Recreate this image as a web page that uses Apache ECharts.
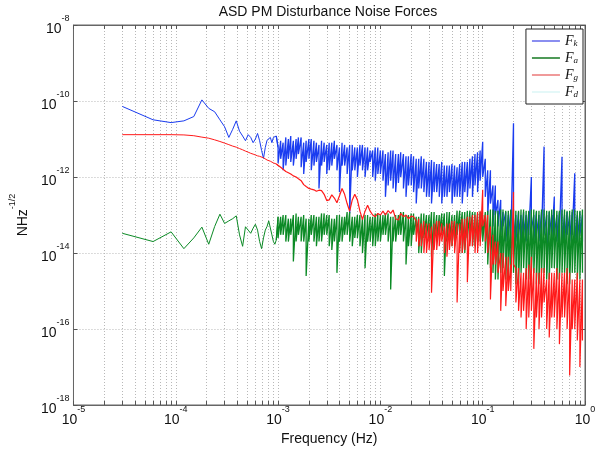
<!DOCTYPE html>
<html><head><meta charset="utf-8">
<script src="https://cdn.jsdelivr.net/npm/echarts@6/dist/echarts.min.js"></script>
<style>html,body{margin:0;padding:0;background:#fff}#c{width:602px;height:453px}</style>
</head><body><div id="c"></div>
<script>
// Low-frequency bins (Hz)
const fLow = [3e-5,6e-5,9e-5,1.2e-4,1.5e-4,1.8e-4,2.1e-4,2.4e-4,2.7e-4,3.0e-4,3.3e-4,3.6e-4,3.9e-4,4.2e-4,4.5e-4,4.8e-4,5.1e-4,5.4e-4,5.7e-4,6.0e-4,6.3e-4,6.6e-4,6.9e-4,7.2e-4,7.5e-4,7.8e-4,8.1e-4,8.4e-4,8.7e-4,9.0e-4,9.3e-4,9.6e-4];
const fkLow = [7.2e-11,3.2e-11,2.7e-11,3.0e-11,3.9e-11,1.07e-10,6.4e-11,5.2e-11,3.2e-11,2.1e-11,1.1e-11,1.8e-11,3e-11,1.6e-11,1.2e-11,9e-12,1.3e-11,1.1e-11,8e-12,1.0e-11,1.4e-11,9e-12,5e-12,3.1e-12,6e-12,9.3e-12,1.0e-11,1.1e-11,8e-12,1.1e-11,1.2e-11,1.2e-11];
const faLow = [3.3e-14,2.0e-14,3.6e-14,1.3e-14,2.5e-14,4.8e-14,1.7e-14,5e-14,1.05e-13,6e-14,7e-14,8e-14,9.5e-14,3e-14,1.5e-14,4.9e-14,4e-14,3.3e-14,4.5e-14,5.7e-14,4e-14,2e-14,1.3e-14,2.5e-14,4e-14,5e-14,7e-14,7.4e-14,3e-14,2e-14,1.7e-14,2.2e-14];
const fgLow = [1.3e-11,1.3e-11,1.3e-11,1.28e-11,1.22e-11,1.12e-11,1.05e-11,9.5e-12,8.6e-12,7.8e-12,7.1e-12,6.5e-12,6.1e-12,5.6e-12,5.2e-12,4.8e-12,4.5e-12,4.2e-12,4.0e-12,3.8e-12,3.6e-12,3.5e-12,3.4e-12,3.2e-12,3.0e-12,2.8e-12,2.7e-12,2.6e-12,2.45e-12,2.35e-12,2.25e-12,2.2e-12];

// Dense region bins (Hz); each bin has a max (Hi) and a min (Lo) value
const fDense = [
1.00e-3,1.06e-3,1.12e-3,1.19e-3,1.26e-3,1.33e-3,1.41e-3,1.50e-3,1.58e-3,1.68e-3,1.78e-3,1.88e-3,2.00e-3,2.11e-3,2.24e-3,2.37e-3,2.51e-3,2.66e-3,2.82e-3,2.99e-3,3.16e-3,3.35e-3,3.55e-3,3.76e-3,3.98e-3,4.22e-3,4.47e-3,4.73e-3,5.01e-3,5.31e-3,5.62e-3,5.96e-3,6.31e-3,6.68e-3,7.08e-3,7.50e-3,7.94e-3,8.41e-3,8.91e-3,9.44e-3,
1.00e-2,1.06e-2,1.12e-2,1.19e-2,1.26e-2,1.33e-2,1.41e-2,1.50e-2,1.58e-2,1.68e-2,1.78e-2,1.88e-2,2.00e-2,2.11e-2,2.24e-2,2.37e-2,2.51e-2,2.66e-2,2.82e-2,2.99e-2,3.16e-2,3.35e-2,3.55e-2,3.76e-2,3.98e-2,4.22e-2,4.47e-2,4.73e-2,5.01e-2,5.31e-2,5.62e-2,5.96e-2,6.31e-2,6.68e-2,7.08e-2,7.50e-2,7.94e-2,8.41e-2,8.91e-2,9.44e-2,
1.00e-1,1.06e-1,1.12e-1,1.19e-1,1.26e-1,1.33e-1,1.41e-1,1.50e-1,1.58e-1,1.68e-1,1.78e-1,1.88e-1,2.00e-1,2.11e-1,2.24e-1,2.37e-1,2.51e-1,2.66e-1,2.82e-1,2.99e-1,3.16e-1,3.35e-1,3.55e-1,3.76e-1,3.98e-1,4.22e-1,4.47e-1,4.73e-1,5.01e-1,5.31e-1,5.62e-1,5.96e-1,6.31e-1,6.68e-1,7.08e-1,7.50e-1,7.94e-1,8.41e-1,8.91e-1,9.44e-1];

const fkHi = [
6e-12,9e-12,8e-12,1.1e-11,1e-11,1.2e-11,9e-12,1e-11,1.1e-11,1.1e-11,8e-12,9e-12,1e-11,1e-11,9e-12,8e-12,7e-12,9e-12,8e-12,7e-12,8e-12,8e-12,9e-12,7e-12,6e-12,8e-12,7e-12,6e-12,7e-12,7e-12,6e-12,6e-12,7e-12,7e-12,6e-12,6e-12,5e-12,5e-12,6e-12,6e-12,
5e-12,5e-12,4e-12,4.5e-12,5e-12,5e-12,4e-12,4e-12,4.5e-12,4e-12,3.5e-12,3.5e-12,4e-12,3.5e-12,3e-12,3e-12,3.5e-12,3e-12,2.5e-12,2.5e-12,2.8e-12,2.5e-12,2.2e-12,2.2e-12,2.5e-12,2e-12,2e-12,2e-12,2.2e-12,2e-12,1.8e-12,2.2e-12,2.5e-12,2.5e-12,2.5e-12,3e-12,3.5e-12,4e-12,4.5e-12,5e-12,
8.5e-12,3e-12,1.5e-12,1.5e-12,6e-13,6e-13,2.5e-13,2.5e-13,1.2e-13,1.2e-13,1e-13,1.2e-13,2.6e-11,1e-13,1.2e-13,1e-13,1.2e-13,1e-13,1.2e-13,1e-12,1e-13,1.2e-13,1e-13,1.2e-13,6.3e-12,1e-13,1.2e-13,1e-13,3e-13,1e-13,1.2e-13,3.4e-12,1e-13,1.2e-13,1e-13,1.2e-13,1.25e-12,1e-13,1.2e-13,1e-13];
const fkLo = [
2.3e-12,3e-12,1.5e-12,2e-12,3e-12,2.5e-12,2e-12,3e-12,4e-12,1.8e-12,1.2e-12,2.5e-12,3e-12,1.5e-12,2e-12,2.5e-12,5e-13,2e-12,2.5e-12,1.2e-12,1.5e-12,2e-12,3e-12,1.5e-12,4e-13,2e-12,2e-12,1.2e-12,1.1e-13,1.5e-12,1.5e-12,1e-12,2e-12,1.5e-12,1e-12,1.5e-12,2.5e-12,1e-12,8e-13,1.2e-12,
1.2e-12,8e-13,3e-13,6e-13,8e-13,5e-13,4e-13,7e-13,1e-12,5e-13,3e-13,6e-13,6e-13,4e-13,2e-13,5e-13,5e-13,4e-13,3e-13,3e-13,2e-13,4e-13,4e-13,3e-13,2e-13,3e-13,3e-13,4e-13,2e-13,3e-13,3e-13,3e-13,2e-13,4e-13,3e-13,5e-13,3e-13,6e-13,4e-13,8e-13,
1e-12,3e-13,1e-13,2e-13,5e-14,1e-13,5e-14,3e-14,5e-14,2e-14,3e-14,2e-14,2e-14,2e-14,3e-14,2e-14,3e-14,2e-14,3e-14,4e-14,2e-14,3e-14,2e-14,3e-14,3e-14,3e-15,3e-14,2e-14,3e-14,2e-14,3e-14,2e-14,2e-14,3e-14,2e-14,3e-14,2e-14,2e-14,3e-14,2e-14];

const faHi = [
9e-14,9e-14,1e-13,1e-13,8e-14,8e-14,1e-13,1.1e-13,9e-14,9e-14,1e-13,8e-14,8e-14,1e-13,1e-13,9e-14,9e-14,1.1e-13,1.1e-13,1e-13,1e-13,8e-14,8e-14,1e-13,1e-13,9e-14,9e-14,1.2e-13,1.2e-13,9e-14,9e-14,1e-13,1e-13,8e-14,1e-13,1e-13,9e-14,9e-14,1.1e-13,1.1e-13,
1e-13,1e-13,1.1e-13,1.1e-13,9e-14,9e-14,1e-13,1e-13,1.2e-13,1.2e-13,1e-13,1e-13,1.1e-13,1.1e-13,9e-14,9e-14,1.1e-13,1.1e-13,1e-13,1e-13,1.2e-13,1.2e-13,1e-13,1e-13,1.1e-13,1.1e-13,1.2e-13,1.2e-13,1e-13,1e-13,1.3e-13,1.3e-13,1.2e-13,1.2e-13,1.3e-13,1.3e-13,1.2e-13,1.2e-13,1.1e-13,1.2e-13,
1e-13,1.2e-13,1.3e-13,1.4e-13,1.4e-13,1.3e-13,1.3e-13,1.4e-13,1.4e-13,1.3e-13,1.3e-13,1.4e-13,1.4e-13,1.3e-13,1.3e-13,1.4e-13,1.4e-13,1.3e-13,1.3e-13,1.4e-13,1.4e-13,1.3e-13,1.3e-13,1.4e-13,1.4e-13,1.3e-13,1.3e-13,1.4e-13,1.4e-13,1.3e-13,1.3e-13,1.4e-13,1.4e-13,1.3e-13,1.3e-13,1.4e-13,1.4e-13,1.3e-13,1.3e-13,1.4e-13];
const faLo = [
2.5e-14,3e-14,3e-14,2e-14,2e-14,3e-14,6e-15,2e-14,3e-14,2e-14,2e-14,2.5e-15,2e-14,3e-14,2e-14,1.5e-14,2e-14,2e-14,3e-14,3e-14,1.5e-14,1.2e-14,2e-14,3e-15,2e-14,2e-14,3e-14,3e-14,2e-14,1.5e-14,2.5e-14,2.5e-14,1.5e-14,1e-14,4e-15,2e-14,2e-14,1.5e-14,1.5e-14,2e-14,
2e-14,3e-14,3e-14,2e-14,1.1e-15,2e-14,2e-14,3e-14,3e-14,2e-14,5e-15,1.5e-14,1.5e-14,3e-14,3e-14,1e-14,1e-14,2.5e-14,2.5e-14,2e-14,8e-15,2e-14,2e-14,3e-14,3e-14,2.5e-15,2e-14,2e-14,1.5e-14,1.5e-14,3e-14,3e-14,1e-14,1e-14,2.5e-14,2.5e-14,1.5e-14,1.5e-14,2e-14,2e-14,
2e-14,1e-14,5e-15,4e-15,3e-15,2e-15,2e-15,3e-15,4e-15,2e-15,2e-15,3e-15,3e-15,1.5e-15,1.5e-15,3e-15,4e-15,2e-15,2e-15,3e-15,3e-15,1.5e-15,1.5e-15,3e-15,3e-15,2e-15,2e-15,4e-15,4e-15,2e-15,2e-15,3e-15,3e-15,1.5e-15,1.5e-15,3e-15,3e-15,2e-15,2e-15,3e-15];

const fgHi = [
2.0e-12,1.8e-12,1.6e-12,1.4e-12,1.3e-12,1.2e-12,1.07e-12,1e-12,9e-13,8e-13,6.3e-13,5.6e-13,5e-13,4.8e-13,4.6e-13,4.2e-13,4.5e-13,4.4e-13,3.5e-13,2.4e-13,2.5e-13,3.4e-13,2.8e-13,2.1e-13,3.2e-13,5e-13,3.5e-13,2e-13,1.26e-13,2.5e-13,3.5e-13,2.5e-13,1.26e-13,7.6e-14,1.26e-13,1.8e-13,1.26e-13,1e-13,9e-14,1.1e-13,
1e-13,1.26e-13,1e-13,1.3e-13,1.1e-13,1.35e-13,8e-14,7.4e-14,1.1e-13,9e-14,1e-13,8e-14,9.3e-14,9e-14,7e-14,8e-14,6e-14,7e-14,6e-14,6e-14,5e-14,6e-14,7e-14,7e-14,6e-14,5e-14,6e-14,6e-14,7e-14,7e-14,6e-14,6e-14,8e-14,8e-14,9e-14,9e-14,1e-13,1e-13,1.2e-13,1.3e-13,
4.6e-13,1e-13,1e-13,5e-14,3e-14,2e-14,2e-14,1e-14,1e-14,8e-15,8e-15,5e-15,4e-13,4e-15,4e-15,3e-15,3e-15,4e-15,5e-15,8e-15,4e-15,3e-15,3e-15,4e-15,4e-15,2e-15,3e-15,3e-15,3e-15,4e-15,3e-15,3e-15,3e-15,4e-15,3e-15,2e-15,2e-15,3e-15,2e-15,2e-15];
const fgLo = [
null,null,null,null,null,null,null,null,null,null,null,null,null,null,null,null,null,null,null,null,null,null,null,null,null,null,null,null,null,null,null,null,null,null,null,null,null,null,null,null,
null,null,null,null,null,null,null,null,null,null,null,null,null,null,2e-14,1.5e-14,1.5e-14,1e-14,1e-14,1.2e-14,9e-16,1.2e-14,1.2e-14,1.5e-14,2e-14,1e-14,8e-15,1.2e-14,1.5e-14,1e-14,5e-16,1e-14,1e-14,1.2e-14,1.7e-15,1.5e-14,1.5e-14,1e-14,1e-14,1.5e-14,
5e-14,2e-14,1e-14,6e-16,5e-15,5e-15,3e-15,3e-16,1e-15,4e-16,1e-15,1e-15,5e-15,5e-16,3e-16,2e-16,3e-16,1e-16,2e-16,3e-16,3e-17,2e-16,1e-16,2e-16,5e-16,1e-16,6e-17,2e-16,2e-16,1e-16,4e-17,2e-16,2e-16,1e-16,6e-18,1e-16,1e-16,5e-17,1e-17,5e-17];

const seriesNames = ['Fk','Fa','Fg','Fd'];
const seriesSubs = ['k','a','g','d'];
const xTicks = [1e-5,2e-5,3e-5,4e-5,5e-5,6e-5,7e-5,8e-5,9e-5,1e-4,2e-4,3e-4,4e-4,5e-4,6e-4,7e-4,8e-4,9e-4,1e-3,2e-3,3e-3,4e-3,5e-3,6e-3,7e-3,8e-3,9e-3,1e-2,2e-2,3e-2,4e-2,5e-2,6e-2,7e-2,8e-2,9e-2,1e-1,2e-1,3e-1,4e-1,5e-1,6e-1,7e-1,8e-1,9e-1,1];
const xLabels = [1e-5,1e-4,1e-3,1e-2,1e-1,1];
const yTicks = [1e-18,1e-16,1e-14,1e-12,1e-10,1e-8];

function lowPairs(fs, vs) { return fs.map((f, i) => [f, vs[i]]); }
function densePairs(hi, lo) {
  const out = [];
  fDense.forEach((f, i) => {
    out.push([f, hi[i]]);
    if (lo[i] != null) out.push([f, lo[i]]);
  });
  return out;
}
function pow10Label(v) { const e = Math.round(Math.log10(v)); return '{b|10}{e|' + e + '}'; }
const supRich = {
  b: {fontSize: 14, fontFamily: 'Liberation Sans', color: '#111', lineHeight: 22, verticalAlign: 'bottom'},
  e: {fontSize: 9, fontFamily: 'Liberation Sans', color: '#111', lineHeight: 12, verticalAlign: 'top'}
};
const gridLine = {show: true, lineStyle: {color: '#b8b8b8', type: [1, 2], width: 1}};
const axisLineStyle = {show: true, lineStyle: {color: '#666', width: 1}};

const chart = echarts.init(document.getElementById('c'), null, {renderer: 'canvas'});
const colors = ['#1a3cf0', '#0b8a25', '#ff1a1a', '#dff6f6'];
const legendColors = ['#8a8ef0', '#4f9a58', '#f09a9a', '#e4f8f8'];
const lowSets = [lowPairs(fLow, fkLow), lowPairs(fLow, faLow), lowPairs(fLow, fgLow), []];
const denseSets = [densePairs(fkHi, fkLo), densePairs(faHi, faLo), densePairs(fgHi, fgLo), []];
const denseWidth = [1.3, 1.3, 1.2, 1];

const series = [];
seriesNames.forEach((name, i) => {
  series.push({
    name: name, type: 'line', data: lowSets[i].concat(denseSets[i].slice(0, 1)),
    symbol: 'none', color: colors[i], lineStyle: {width: 1, color: colors[i]}, emphasis: {disabled: true}, z: 2 + i
  });
  series.push({
    name: name, type: 'line', data: lowSets[i].slice(-1).concat(denseSets[i]),
    symbol: 'none', color: colors[i], lineStyle: {width: denseWidth[i], color: colors[i]}, emphasis: {disabled: true}, z: 2 + i
  });
});

chart.setOption({
  animation: false,
  backgroundColor: '#fff',
  title: {text: 'ASD PM Disturbance Noise Forces', left: 328, top: 5, padding: 0, textAlign: 'center',
    textStyle: {fontFamily: 'Liberation Sans', fontSize: 14, fontWeight: 'normal', color: '#111'}},
  grid: {left: 71, right: 17, top: 25, bottom: 48, show: true, borderColor: '#666', borderWidth: 1},
  legend: {
    orient: 'vertical', right: 19, top: 29, itemWidth: 28, itemHeight: 2, itemGap: 3, icon: 'rect',
    padding: [5, 5, 5, 6], borderColor: '#222', borderWidth: 1, backgroundColor: '#fff', z: 10,
    data: seriesNames.map((n, i) => ({name: n, itemStyle: {color: legendColors[i]}})),
    formatter: (name) => '{f|F}{s|' + seriesSubs[seriesNames.indexOf(name)] + '}',
    textStyle: {rich: {
      f: {fontFamily: 'Liberation Serif', fontStyle: 'italic', fontSize: 14, color: '#111', lineHeight: 14},
      s: {fontFamily: 'Liberation Serif', fontStyle: 'italic', fontSize: 9, color: '#111', verticalAlign: 'bottom', lineHeight: 10, padding: [4, 0, 0, 0]}
    }}
  },
  xAxis: [{
    type: 'log', min: 1e-5, max: 1, position: 'bottom',
    name: 'Frequency (Hz)', nameLocation: 'middle', nameGap: 24,
    nameTextStyle: {fontFamily: 'Liberation Sans', fontSize: 14, color: '#111'},
    axisLine: axisLineStyle,
    axisTick: {show: true, inside: true, length: 4, customValues: xTicks, lineStyle: {color: '#555'}},
    axisLabel: {customValues: xLabels, formatter: pow10Label, rich: supRich, margin: 0},
    splitLine: gridLine, minorTick: {show: false}
  }, {
    type: 'log', min: 1e-5, max: 1, position: 'top',
    axisLine: axisLineStyle,
    axisTick: {show: true, inside: true, length: 4, customValues: xTicks, lineStyle: {color: '#555'}},
    axisLabel: {show: false}, splitLine: {show: false}
  }],
  yAxis: [{
    type: 'log', min: 1e-18, max: 1e-8, position: 'left',
    name: '{n|NHz}{e|-1/2}', nameLocation: 'middle', nameGap: 36,
    nameTextStyle: {rich: {
      n: {fontFamily: 'Liberation Sans', fontSize: 14, color: '#111', lineHeight: 22, verticalAlign: 'bottom'},
      e: {fontFamily: 'Liberation Sans', fontSize: 9, color: '#111', lineHeight: 12, verticalAlign: 'top'}
    }},
    axisLine: axisLineStyle,
    axisTick: {show: true, inside: true, length: 4, customValues: yTicks, lineStyle: {color: '#555'}},
    axisLabel: {customValues: yTicks, formatter: pow10Label, rich: supRich, margin: 4},
    splitLine: gridLine
  }, {
    type: 'log', min: 1e-18, max: 1e-8, position: 'right',
    axisLine: axisLineStyle,
    axisTick: {show: true, inside: true, length: 4, customValues: yTicks, lineStyle: {color: '#555'}},
    axisLabel: {show: false}, splitLine: {show: false}
  }],
  series: series
});
</script></body></html>
